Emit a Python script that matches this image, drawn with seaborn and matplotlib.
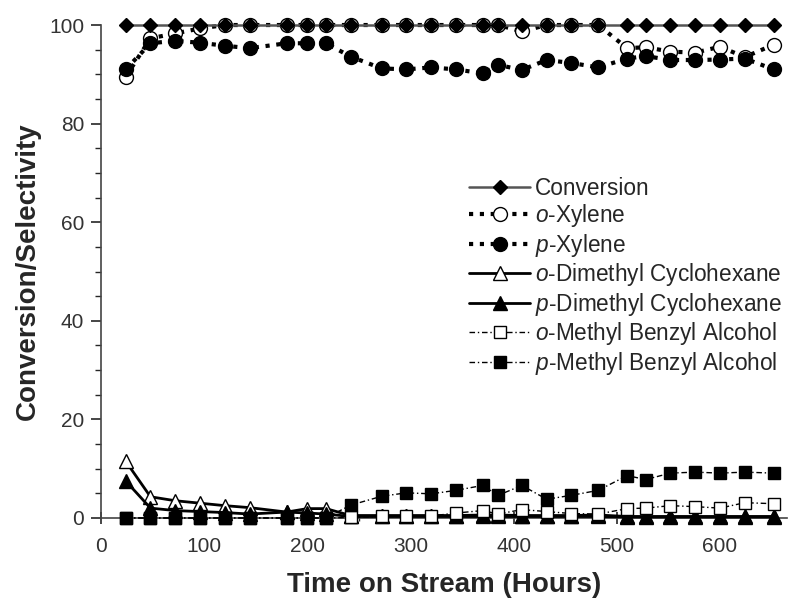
import matplotlib
matplotlib.use('Agg')
import matplotlib.pyplot as plt
import seaborn as sns
import pandas as pd
from matplotlib.ticker import MultipleLocator

# Temps sur flux (heures)
hours = [24, 48, 72, 96, 120, 144, 180, 200, 218, 242, 272, 296, 320, 344,
         370, 385, 408, 432, 456, 482, 510, 528, 552, 576, 600, 624, 652]

conversion = [100] * 27
o_xylene = [89.5, 97.3, 98.3, 99.3, 100, 100, 100, 100, 100, 100, 100, 100, 100, 100,
            100, 100, 98.7, 100, 100, 100, 95.3, 95.5, 94.6, 94.4, 95.6, 93.5, 96.0]
p_xylene = [91.0, 96.3, 96.8, 96.4, 95.8, 95.3, 96.3, 96.3, 96.3, 93.6, 91.2, 91.0, 91.4, 91.0,
            90.2, 91.9, 90.9, 92.9, 92.3, 91.4, 93.2, 93.7, 92.9, 92.9, 93.0, 93.2, 91.0]
o_dmch = [11.5, 4.3, 3.5, 3.0, 2.5, 2.1, 1.2, 1.9, 1.9, 0.5, 0.5, 0.5, 0.5, 0.5,
          0.6, 0.6, 0.5, 0.5, 0.5, 0.6, 0.3, 0.3, 0.3, 0.3, 0.3, 0.3, 0.3]
p_dmch = [7.5, 2.0, 1.5, 1.3, 1.1, 0.8, 1.2, 1.0, 0.8, 0.3, 0.3, 0.3, 0.3, 0.3,
          0.3, 0.3, 0.3, 0.3, 0.3, 0.3, 0.2, 0.2, 0.2, 0.2, 0.2, 0.2, 0.2]
o_mba = [0, 0, 0, 0, 0, 0, 0, 0, 0, 0.1, 0.3, 0.3, 0.4, 1.0,
         1.5, 0.8, 1.7, 1.3, 0.9, 0.8, 1.9, 2.0, 2.5, 2.3, 2.0, 3.1, 2.9]
p_mba = [0, 0, 0, 0, 0, 0, 0, 0, 0, 2.6, 4.4, 5.1, 4.9, 5.6,
         6.6, 4.6, 6.6, 3.8, 4.6, 5.6, 8.6, 7.8, 9.1, 9.3, 9.1, 9.3, 9.1]

series_names = ['Conversion', r'$\it{o}$-Xylene', r'$\it{p}$-Xylene',
                r'$\it{o}$-Dimethyl Cyclohexane', r'$\it{p}$-Dimethyl Cyclohexane',
                r'$\it{o}$-Methyl Benzyl Alcohol', r'$\it{p}$-Methyl Benzyl Alcohol']

sns.set_style('ticks')
plt.rcParams['font.family'] = ['Liberation Sans', 'DejaVu Sans']
plt.rcParams['mathtext.fontset'] = 'custom'
plt.rcParams['mathtext.it'] = 'Liberation Sans:italic'
plt.rcParams['mathtext.rm'] = 'Liberation Sans'

fig = plt.figure(figsize=(7.95, 6.03), dpi=100)
ax = fig.add_axes([0.127, 0.141, 0.863, 0.8175])

# style : (valeurs, marqueur, remplissage, style ligne, couleur ligne, épaisseur, taille, zorder)
styles = [
    (conversion, 'D', 'black', '-', '#555555', 1.8, 7.5, 10),
    (o_xylene, 'o', 'white', (0, (1, 1.6)), 'black', 3.0, 10, 4),
    (p_xylene, 'o', 'black', (0, (1, 1.6)), 'black', 3.0, 10, 5),
    (o_dmch, '^', 'white', '-', 'black', 2.0, 10, 3),
    (p_dmch, '^', 'black', '-', 'black', 2.0, 10, 4),
    (o_mba, 's', 'white', (0, (4, 2, 1, 2)), 'black', 1.0, 9, 6),
    (p_mba, 's', 'black', (0, (4, 2, 1, 2)), 'black', 1.0, 9, 7),
]

for name, (vals, mk, fc, ls, lc, lw, ms, z) in zip(series_names, styles):
    df = pd.DataFrame({'hours': hours, 'value': vals})
    sns.lineplot(data=df, x='hours', y='value', ax=ax, label=name,
                 marker=mk, markerfacecolor=fc, markeredgecolor='black',
                 markeredgewidth=1.0, markersize=ms, linestyle=ls,
                 color=lc, linewidth=lw, clip_on=False, zorder=z)

ax.set_xlim(0, 665)
ax.set_ylim(0, 100)
ax.xaxis.set_major_locator(MultipleLocator(100))
ax.xaxis.set_minor_locator(MultipleLocator(50))
ax.yaxis.set_major_locator(MultipleLocator(20))
ax.yaxis.set_minor_locator(MultipleLocator(5))
ax.tick_params(axis='x', which='major', direction='inout', length=9, width=1.2,
               labelsize=15, pad=9)
ax.tick_params(axis='x', which='minor', direction='inout', length=5, width=1.0)
ax.tick_params(axis='y', which='major', direction='out', length=7, width=1.2,
               labelsize=15, pad=5)
ax.tick_params(axis='y', which='minor', direction='out', length=4, width=1.0)
for lbl in ax.get_xticklabels() + ax.get_yticklabels():
    lbl.set_color('#333333')

sns.despine(ax=ax)
for sp in ['left', 'bottom']:
    ax.spines[sp].set_linewidth(1.2)
    ax.spines[sp].set_color('#444444')

ax.set_xlabel('Time on Stream (Hours)', fontsize=20, fontweight='bold', labelpad=12)
ax.set_ylabel('Conversion/Selectivity', fontsize=20, fontweight='bold', labelpad=6)

leg = ax.legend(loc='upper left', bbox_to_anchor=(0.52, 0.715), frameon=False,
                fontsize=16.3, handlelength=2.7, handletextpad=0.2,
                labelspacing=0.11, borderpad=0)

fig.savefig('out.png', dpi=100)
